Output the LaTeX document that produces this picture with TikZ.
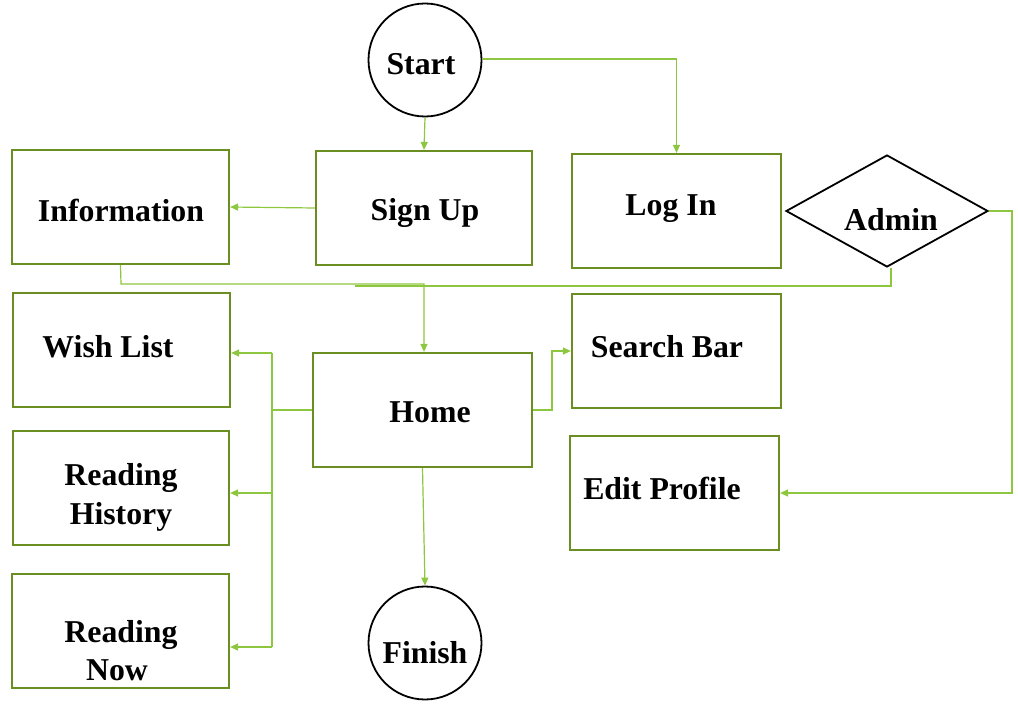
\documentclass[tikz,border=0pt]{standalone}
\usepackage{fontspec}
\setmainfont{Liberation Serif}
\usetikzlibrary{arrows.meta,shapes.geometric}
\definecolor{boxgreen}{RGB}{107,142,35}
\definecolor{linkgreen}{RGB}{141,198,63}
\begin{document}
\begin{tikzpicture}[x=1pt,y=-1pt,
  rbox/.style={draw=boxgreen,line width=2.2pt,inner sep=0pt,rectangle},
  term/.style={draw=black,line width=1.8pt,circle,inner sep=0pt,minimum size=113pt},
  dia/.style={draw=black,line width=1.8pt,diamond,inner sep=0pt,aspect=1.8,minimum width=202pt,minimum height=112pt},
  txt/.style={font=\fontsize{31.8}{36}\selectfont\bfseries,anchor=base,inner sep=0pt},
  link/.style={draw=linkgreen,line width=1.2pt},
  arr/.style={link,-{Triangle[length=8pt,width=7pt]}}
]
\useasboundingbox (0,0) rectangle (1018,711);
% shapes
\node[term] (start) at (425,60) {};
\node[term] (finish) at (425,643) {};
\node[dia] (admin) at (887,211) {};
\node[rbox,minimum width=216pt,minimum height=114pt] (signup) at (424,208) {};
\node[rbox,minimum width=217pt,minimum height=114pt] (info) at (120.5,207) {};
\node[rbox,minimum width=209pt,minimum height=114pt] (login) at (676.5,211) {};
\node[rbox,minimum width=217pt,minimum height=114pt] (wish) at (121.5,350) {};
\node[rbox,minimum width=219pt,minimum height=114pt] (home) at (422.5,410) {};
\node[rbox,minimum width=209pt,minimum height=114pt] (search) at (676.5,351) {};
\node[rbox,minimum width=216pt,minimum height=114pt] (hist) at (121,488) {};
\node[rbox,minimum width=209pt,minimum height=114pt] (edit) at (674.5,493) {};
\node[rbox,minimum width=217pt,minimum height=114pt] (now) at (120.5,631) {};
% texts
\node[txt] (tstart) at (421,75) {Start};
\node[txt] (tsignup) at (425,221) {Sign Up};
\node[txt] (tinfo) at (121,222) {Information};
\node[txt] (tlogin) at (671,216) {Log In};
\node[txt] (tadmin) at (891,231) {Admin};
\node[txt] (twish) at (108,358) {Wish List};
\node[txt] (tsearch) at (667,358) {Search Bar};
\node[txt] (thome) at (430,422) {Home};
\node[txt] (thist1) at (121,485) {Reading};
\node[txt] (thist2) at (121,524) {History};
\node[txt] (tedit) at (662,499) {Edit Profile};
\node[txt] (tnow1) at (121,642) {Reading};
\node[txt] (tnow2) at (117,680) {Now};
\node[txt] (tfinish) at (425,663) {Finish};
% connectors
\coordinate (j1) at (121,284);
\coordinate (j2) at (424,284);
\coordinate (sb) at (272,410);
\draw[arr] (start.south) -- (signup.north);
\draw[arr] (start.east |- 0,59) -| (login.north);
\draw[arr] (signup.west) -- (info.east);
\draw[arr] (info.south) -- (j1) -- (j2) -- (home.north -| j2);
\draw[link] (admin.south) ++(4,0) coordinate (ab) -- (ab |- 0,286) -- (355,286);
\draw[link] (home.west) -- (sb);
\draw[link] (272,353) -- (272,647);
\draw[arr] (272,353) -- (wish.east |- 0,353);
\draw[arr] (272,493) -- (hist.east |- 0,493);
\draw[arr] (272,647) -- (now.east |- 0,647);
\draw[arr] (home.east) -- (552,410) -- (552,351) -- (search.west);
\draw[arr] (admin.east) -- (1012,211) -- (1012,493) -- (edit.east);
\draw[arr] (home.south) -- (finish.north);
\end{tikzpicture}
\end{document}
